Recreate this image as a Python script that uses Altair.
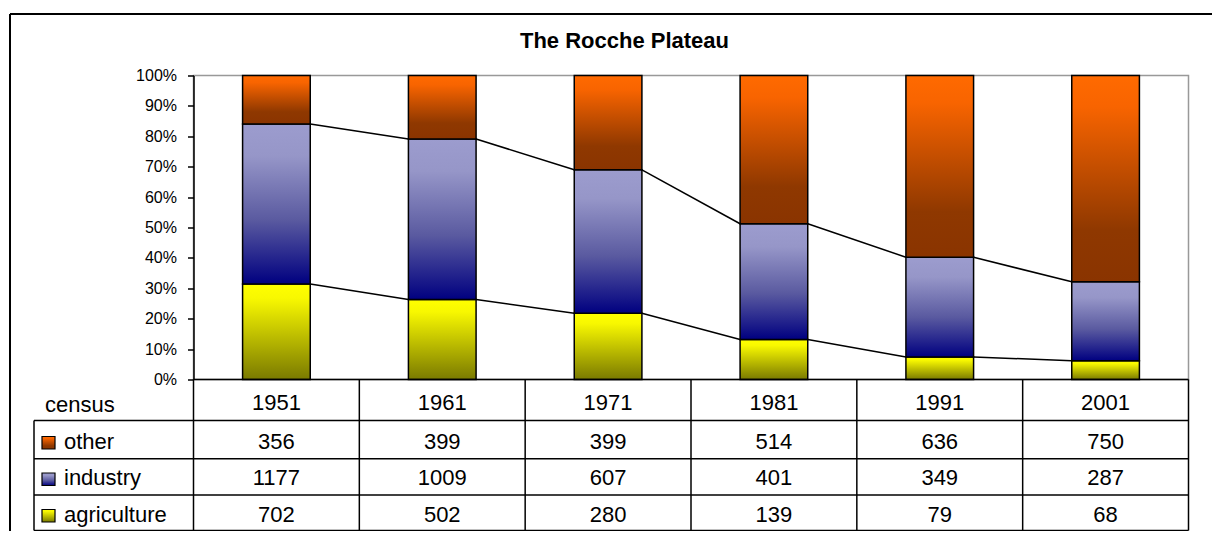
import altair as alt
import pandas as pd

# ---------------- data ----------------
years = ["1951", "1961", "1971", "1981", "1991", "2001"]
other = [356, 399, 399, 514, 636, 750]
industry = [1177, 1009, 607, 401, 349, 287]
agriculture = [702, 502, 280, 139, 79, 68]
series_order = ["agriculture", "industry", "other"]  # bottom -> top
table_order = ["other", "industry", "agriculture"]  # table rows top -> bottom
title_text = "The Rocche Plateau"
header_label = "census"
y_tick_values = [0, 0.1, 0.2, 0.3, 0.4, 0.5, 0.6, 0.7, 0.8, 0.9, 1.0]

FONT = "Liberation Sans"
HALF = 0.204  # half bar width, in category units

values_by_series = {"agriculture": agriculture, "industry": industry, "other": other}

rows = []
for i, yr in enumerate(years):
    total = sum(values_by_series[s][i] for s in series_order)
    cum = 0.0
    for s in series_order:
        share = values_by_series[s][i] / total
        rows.append(dict(idx=i, year=yr, series=s, value=values_by_series[s][i],
                         y0=cum, y1=cum + share, xl=i - HALF, xr=i + HALF))
        cum += share
df = pd.DataFrame(rows)

line_rows = []
for s in ["agriculture", "industry"]:
    tops = df[df.series == s].sort_values("idx")["y1"].tolist()
    for i in range(len(years) - 1):
        line_rows.append(dict(xa=i + HALF, xb=i + 1 - HALF, ya=tops[i], yb=tops[i + 1]))
lines_df = pd.DataFrame(line_rows)

bounds_df = pd.DataFrame({"b": [i - 0.5 for i in range(len(years) + 1)]})
years_df = pd.DataFrame({"idx": list(range(len(years))), "year": years})

# ---------------- styles ----------------
def grad(stops):
    return alt.LinearGradient(
        gradient="linear",
        stops=[alt.GradientStop(color=c, offset=o) for o, c in stops],
        x1=0, x2=0, y1=0, y2=1,
    )

GRAD = {
    "other": grad([(0, "#FF6A00"), (0.15, "#F86400"), (0.75, "#8F3800"), (1, "#8A3400")]),
    "industry": grad([(0, "#9C9CCE"), (0.2, "#9696C8"), (0.6, "#5A5AA0"), (1, "#000080")]),
    "agriculture": grad([(0, "#FFFF00"), (0.15, "#F8F800"), (1, "#7A7A00")]),
}

XS = alt.Scale(domain=[-0.5, 5.5], nice=False, zero=False)
YS = alt.Scale(domain=[0, 1], nice=False, zero=False)
ONE = alt.Data(values=[{"a": 1}])

PLOT_W = 995
PLOT_H = 304

# table geometry (plot coords)
ROW_LINES = [345, 383.2, 419.5, 455]
LEG_X = -159.5
BASE = {"header": 334.5, "other": 373, "industry": 409.5, "agriculture": 446}

yaxis = alt.Axis(
    format="%", values=y_tick_values, tickSize=6, labelPadding=11,
    domainColor="black", tickColor="black", domainWidth=1.5, tickWidth=1.5,
    labelFont=FONT, labelFontSize=16, labelColor="black", grid=False, title=None,
)

layers = []

# bars
for k, s in enumerate(series_order):
    layers.append(
        alt.Chart(df).transform_filter(alt.datum.series == s)
        .mark_bar(fill=GRAD[s], stroke="black", strokeWidth=1.5)
        .encode(
            x=alt.X("xl:Q", scale=XS, axis=None),
            x2="xr:Q",
            y=alt.Y("y1:Q", scale=YS, axis=yaxis),
            y2="y0:Q",
        )
    )

# series lines
layers.append(
    alt.Chart(lines_df).mark_rule(color="black", strokeWidth=1.5).encode(
        x=alt.X("xa:Q", scale=XS, axis=None), x2="xb:Q",
        y=alt.Y("ya:Q", scale=YS, axis=yaxis), y2="yb:Q",
    )
)

def hline(y, x1, x2, color="black", w=1.5):
    return alt.Chart(ONE).mark_rule(color=color, strokeWidth=w).encode(
        x=alt.value(x1), x2=alt.value(x2), y=alt.value(y))

def vline(x, y1, y2, color="black", w=1.5):
    return alt.Chart(ONE).mark_rule(color=color, strokeWidth=w).encode(
        x=alt.value(x), y=alt.value(y1), y2=alt.value(y2))

def label(txt, x, y, size=22, align="left", weight="normal"):
    return alt.Chart(ONE).mark_text(
        font=FONT, fontSize=size, align=align, baseline="alphabetic",
        fontWeight=weight, color="black",
    ).encode(x=alt.value(x), y=alt.value(y), text=alt.value(txt))

# table grid
layers.append(hline(PLOT_H, 0, PLOT_W))
for yl in ROW_LINES:
    layers.append(hline(yl, LEG_X, PLOT_W))
layers.append(vline(LEG_X, ROW_LINES[0], ROW_LINES[-1]))
layers.append(
    alt.Chart(bounds_df).mark_rule(color="black", strokeWidth=1.5).encode(
        x=alt.X("b:Q", scale=XS, axis=None),
        y=alt.value(PLOT_H), y2=alt.value(ROW_LINES[-1]),
    )
)

# header row
layers.append(
    alt.Chart(years_df).mark_text(font=FONT, fontSize=22, baseline="alphabetic", color="black")
    .encode(x=alt.X("idx:Q", scale=XS, axis=None), y=alt.value(BASE["header"]), text="year:N")
)
layers.append(label(header_label, -148.5, BASE["header"] + 1.5))

# value rows + legend
for s in table_order:
    b = BASE[s]
    layers.append(
        alt.Chart(df).transform_filter(alt.datum.series == s)
        .mark_text(font=FONT, fontSize=22, baseline="alphabetic", color="black")
        .encode(x=alt.X("idx:Q", scale=XS, axis=None), y=alt.value(b), text="value:Q")
    )
    layers.append(
        alt.Chart(ONE).mark_rect(fill=GRAD[s], stroke="black", strokeWidth=1.2).encode(
            x=alt.value(-151.5), x2=alt.value(-138.5),
            y=alt.value(b - 12), y2=alt.value(b + 0.5))
    )
    layers.append(label(s, -129.5, b))

# title
layers.append(label(title_text, 431, -27.2, size=22, align="center", weight="bold"))

# outer chart border (top & left visible)
layers.append(hline(-61.5, -183.5, 1018.5, w=2))
layers.append(vline(-183.5, -61.5, 460, w=2))

chart = alt.layer(*layers).properties(
    width=PLOT_W, height=PLOT_H,
    autosize=alt.AutoSizeParams(type="none"),
    padding={"left": 185.5, "top": 67.5, "right": 23.5, "bottom": 151.5},
).configure_view(stroke="#999999", strokeWidth=1.5)

chart.save("out.html", embed_options={"renderer": "svg", "actions": False})
